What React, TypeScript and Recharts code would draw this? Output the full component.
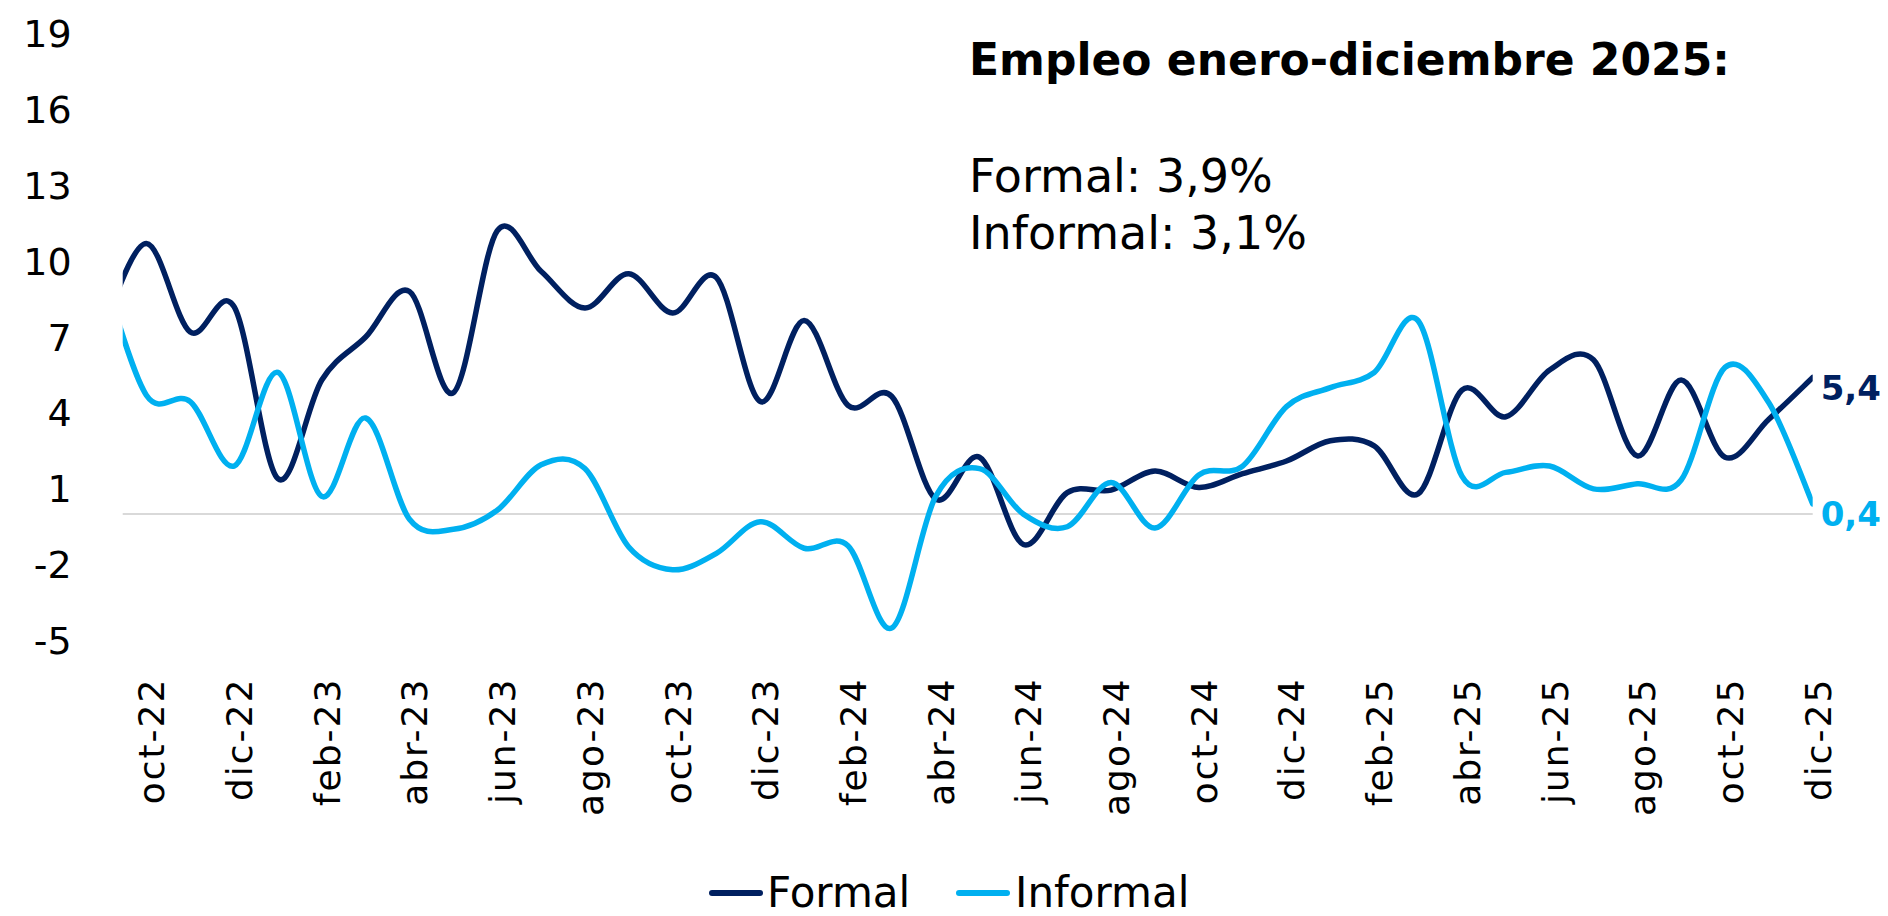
import { LineChart, Line, XAxis, YAxis, ReferenceLine } from 'recharts';

// monthly series, sep-22 is only partly visible (clipped at the left edge)
const months = [
    'sep-22', 'oct-22', 'nov-22', 'dic-22', 'ene-23', 'feb-23', 'mar-23', 'abr-23', 'may-23', 'jun-23',
    'jul-23', 'ago-23', 'sep-23', 'oct-23', 'nov-23', 'dic-23', 'ene-24', 'feb-24', 'mar-24', 'abr-24',
    'may-24', 'jun-24', 'jul-24', 'ago-24', 'sep-24', 'oct-24', 'nov-24', 'dic-24', 'ene-25', 'feb-25',
    'mar-25', 'abr-25', 'may-25', 'jun-25', 'jul-25', 'ago-25', 'sep-25', 'oct-25', 'nov-25', 'dic-25',
];

const formal = [
    7.3, 10.7, 7.2, 8.2, 1.4, 5.3, 7.0, 8.8, 4.8, 11.2,
    9.6, 8.15, 9.5, 7.95, 9.35, 4.45, 7.65, 4.3, 4.65, 0.6,
    2.25, -1.2, 0.85, 0.95, 1.7, 1.05, 1.6, 2.1, 2.9, 2.7,
    0.8, 4.9, 3.85, 5.7, 6.1, 2.3, 5.3, 2.25, 3.75, 5.4,
];

const informal = [
    9.6, 4.7, 4.45, 1.9, 5.6, 0.7, 3.8, -0.2, -0.6, 0.15,
    1.95, 1.8, -1.3, -2.2, -1.55, -0.3, -1.35, -1.25, -4.5, 0.7,
    1.8, 0.0, -0.5, 1.25, -0.55, 1.55, 1.9, 4.25, 5.0, 5.6,
    7.65, 1.5, 1.65, 1.9, 1.0, 1.2, 1.35, 5.8, 4.4, 0.4,
];

const tickMonths = [
    'oct-22', 'dic-22', 'feb-23', 'abr-23', 'jun-23', 'ago-23', 'oct-23', 'dic-23', 'feb-24', 'abr-24',
    'jun-24', 'ago-24', 'oct-24', 'dic-24', 'feb-25', 'abr-25', 'jun-25', 'ago-25', 'oct-25', 'dic-25',
];

const yTicks = [-5, -2, 1, 4, 7, 10, 13, 16, 19];

const NAVY = '#002060';
const CYAN = '#00B0F0';
const FONT = '"DejaVu Sans", sans-serif';

const data = months.map((m, i) => ({ i, month: m, formal: formal[i], informal: informal[i] }));
const xTicks = tickMonths.map((m) => months.indexOf(m));
const last = months.length - 1;

// Excel-like smoothing (Catmull-Rom through every point)
function excelSmooth(context: any) {
    let pts: number[][] = [];
    return {
        areaStart() {},
        areaEnd() {},
        lineStart() {
            pts = [];
        },
        lineEnd() {
            if (!pts.length) return;
            context.moveTo(pts[0][0], pts[0][1]);
            for (let k = 0; k < pts.length - 1; k++) {
                const p0 = pts[Math.max(k - 1, 0)];
                const p1 = pts[k];
                const p2 = pts[k + 1];
                const p3 = pts[Math.min(k + 2, pts.length - 1)];
                context.bezierCurveTo(
                    p1[0] + (p2[0] - p0[0]) / 6,
                    p1[1] + (p2[1] - p0[1]) / 6,
                    p2[0] - (p3[0] - p1[0]) / 6,
                    p2[1] - (p3[1] - p1[1]) / 6,
                    p2[0],
                    p2[1],
                );
            }
        },
        point(x: number, y: number) {
            pts.push([x, y]);
        },
    };
}

const MonthTick = ({ x, y, payload }: any) => (
    <g transform={`translate(${x},${y})`}>
        <text transform="rotate(-90)" textAnchor="end" dy="0.5em" fontSize={36} letterSpacing={2} fill="#000" fontFamily={FONT}>
            {months[payload.value]}
        </text>
    </g>
);

const endLabel = (color: string) => (props: any) => {
    const { x, y, index, value } = props;
    if (index !== last) return null;
    return (
        <text x={x + 8} y={y + 10} dominantBaseline="central" fill={color} fontSize={34} fontWeight="bold" fontFamily={FONT}>
            {String(value).replace('.', ',')}
        </text>
    );
};

export default function App() {
    return (
        <div style={{ position: 'absolute', left: 0, top: 0, width: 1888, height: 916, background: '#fff', fontFamily: FONT }}>
            <LineChart width={1888} height={916} data={data} margin={{ top: 33.5, right: 75.3, bottom: 0, left: 0 }}>
                <XAxis
                    dataKey="i"
                    type="number"
                    domain={[0.46, last]}
                    allowDataOverflow
                    ticks={xTicks}
                    interval={0}
                    axisLine={false}
                    tickLine={false}
                    tickMargin={31}
                    height={275.4}
                    tick={<MonthTick />}
                />
                <YAxis
                    domain={[-5, 19]}
                    ticks={yTicks}
                    interval={0}
                    width={122.7}
                    axisLine={false}
                    tickLine={false}
                    tickMargin={45}
                    tick={{ fontSize: 38, fill: '#000', fontFamily: FONT }}
                />
                <ReferenceLine y={0} stroke="#D9D9D9" strokeWidth={2} />
                <Line
                    dataKey="formal"
                    type={excelSmooth as any}
                    stroke={NAVY}
                    strokeWidth={5.5}
                    strokeLinecap="round"
                    dot={false}
                    activeDot={false}
                    isAnimationActive={false}
                    label={endLabel(NAVY)}
                />
                <Line
                    dataKey="informal"
                    type={excelSmooth as any}
                    stroke={CYAN}
                    strokeWidth={5.5}
                    strokeLinecap="round"
                    dot={false}
                    activeDot={false}
                    isAnimationActive={false}
                    label={endLabel(CYAN)}
                />
            </LineChart>
            <svg width={1888} height={916} style={{ position: 'absolute', left: 0, top: 0, pointerEvents: 'none' }}>
                <text x={969} y={75} fontSize={44} fontWeight="bold" fill="#000" fontFamily={FONT}>
                    Empleo enero-diciembre 2025:
                </text>
                <text x={969} y={192} fontSize={46} fill="#000" fontFamily={FONT}>
                    Formal: 3,9%
                </text>
                <text x={969} y={249} fontSize={46} fill="#000" fontFamily={FONT}>
                    Informal: 3,1%
                </text>
                <line x1={712} y1={893} x2={760} y2={893} stroke={NAVY} strokeWidth={6} strokeLinecap="round" />
                <text x={767} y={907} fontSize={42} fill="#000" fontFamily={FONT}>
                    Formal
                </text>
                <line x1={959} y1={893} x2={1007} y2={893} stroke={CYAN} strokeWidth={6} strokeLinecap="round" />
                <text x={1015} y={907} fontSize={42} fill="#000" fontFamily={FONT}>
                    Informal
                </text>
            </svg>
        </div>
    );
}
